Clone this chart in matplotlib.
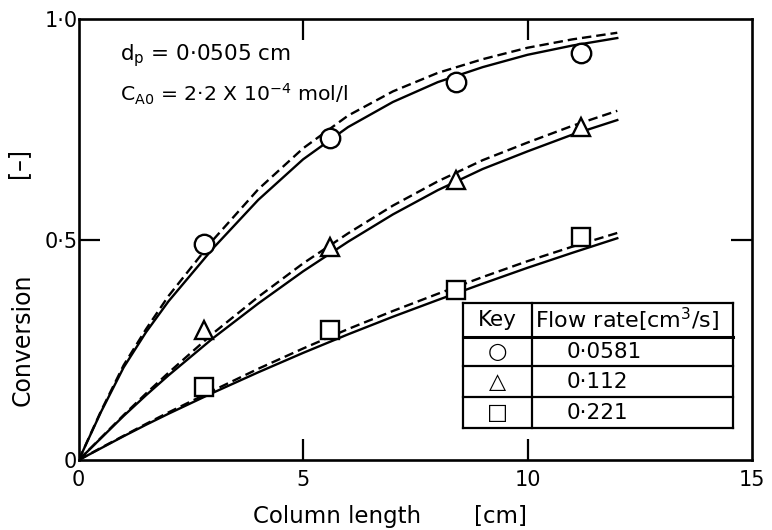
import matplotlib
matplotlib.use("Agg")
import matplotlib.pyplot as plt
from matplotlib.lines import Line2D

plt.rcParams['font.family'] = ['DejaVu Sans']
plt.rcParams['mathtext.default'] = 'regular'

# Column length grid for the model curves [cm]
length_cm = [0, 0.5, 1, 1.5, 2, 3, 4, 5, 6, 7, 8, 9, 10, 11, 12]

# Model curves (solid and dashed) for each flow rate
solid_0581 = [0, 0.11, 0.21, 0.29, 0.36, 0.481, 0.59, 0.682, 0.755, 0.812, 0.857, 0.891, 0.919, 0.940, 0.957]
dashed_0581 = [0, 0.112, 0.215, 0.297, 0.372, 0.50, 0.614, 0.707, 0.781, 0.836, 0.878, 0.909, 0.935, 0.954, 0.969]
solid_112 = [0, 0.05, 0.10, 0.147, 0.192, 0.277, 0.355, 0.428, 0.495, 0.557, 0.612, 0.66, 0.70, 0.738, 0.771]
dashed_112 = [0, 0.051, 0.102, 0.151, 0.198, 0.288, 0.37, 0.446, 0.514, 0.577, 0.632, 0.68, 0.72, 0.758, 0.792]
solid_221 = [0, 0.027, 0.054, 0.08, 0.105, 0.153, 0.199, 0.243, 0.285, 0.325, 0.363, 0.40, 0.436, 0.47, 0.503]
dashed_221 = [0, 0.028, 0.055, 0.082, 0.108, 0.158, 0.207, 0.253, 0.297, 0.338, 0.377, 0.415, 0.451, 0.484, 0.515]

# Measured conversions
meas_length = [2.8, 5.6, 8.4, 11.2]
meas_0581 = [0.49, 0.73, 0.857, 0.923]
meas_112 = [0.295, 0.484, 0.636, 0.755]
meas_221 = [0.166, 0.295, 0.386, 0.505]

flow_rates = ["0·0581", "0·112", "0·221"]
key_symbols = ["○", "△", "□"]
x_ticks = [0, 5, 10, 15]
x_ticklabels = ["0", "5", "10", "15"]
y_ticks = [0, 0.5, 1.0]
y_ticklabels = ["0", "0·5", "1·0"]

fig = plt.figure(figsize=(7.72, 5.30), dpi=100)
ax = fig.add_axes([0.102, 0.132, 0.872, 0.832])

lw = 1.7
for solid, dashed in [(solid_0581, dashed_0581), (solid_112, dashed_112), (solid_221, dashed_221)]:
    ax.plot(length_cm, solid, color='black', lw=lw, solid_joinstyle='round')
    ax.plot(length_cm, dashed, color='black', lw=lw, linestyle=(0, (4.0, 2.1)))

mk = dict(color='black', linestyle='none', markerfacecolor='white', markeredgewidth=1.7, zorder=5)
ax.plot(meas_length, meas_0581, marker='o', markersize=14, **mk)
ax.plot(meas_length, meas_112, marker='^', markersize=12.5, **mk)
ax.plot(meas_length, meas_221, marker='s', markersize=12.5, **mk)

ax.set_xlim(0, 15)
ax.set_ylim(0, 1.0)
ax.set_xticks(x_ticks)
ax.set_xticklabels(x_ticklabels)
ax.set_yticks(y_ticks)
ax.set_yticklabels(y_ticklabels)
ax.tick_params(direction='in', length=15, width=1.6, labelsize=15,
               top=True, right=True)
ax.tick_params(axis='x', pad=7)
ax.tick_params(axis='y', pad=1)
# tick marks only at the interior positions; the end labels sit on the frame corners
for axis in (ax.xaxis, ax.yaxis):
    ticks = axis.get_major_ticks()
    for t in (ticks[0], ticks[-1]):
        t.tick1line.set_visible(False)
        t.tick2line.set_visible(False)
for s in ax.spines.values():
    s.set_linewidth(1.9)

ax.set_xlabel("Column length", fontsize=16.5, va='center')
ax.xaxis.set_label_coords(0.383, -0.127)
ax.text(0.626, -0.127, "[cm]", transform=ax.transAxes, fontsize=16.5,
        ha='center', va='center')
ax.set_ylabel("Conversion", fontsize=17, va='center')
ax.yaxis.set_label_coords(-0.083, 0.272)
ax.text(-0.09, 0.673, "[–]", transform=ax.transAxes, fontsize=17,
        rotation=90, ha='center', va='center')

ax.text(0.062, 0.917, "d$_p$ = 0·0505 cm", transform=ax.transAxes, fontsize=15.5, va='center')
ax.text(0.062, 0.83, "C$_{A0}$ = 2·2 X 10$^{-4}$ mol/l", transform=ax.transAxes, fontsize=14.7, va='center')

# Key table
tx0, tx1, txd = 0.571, 0.972, 0.674
row_edges = [0.356, 0.279, 0.213, 0.143, 0.0726]
tkw = dict(transform=ax.transAxes, color='black', lw=1.6, clip_on=False)
for i, y in enumerate(row_edges):
    ax.add_line(Line2D([tx0, tx1], [y, y], **dict(tkw, lw=2.2 if i == 1 else 1.6)))
for x in (tx0, txd, tx1):
    ax.add_line(Line2D([x, x], [row_edges[0], row_edges[-1]], **tkw))
ax.add_patch(plt.Rectangle((tx0, row_edges[-1]), tx1 - tx0, row_edges[0] - row_edges[-1],
                           transform=ax.transAxes, facecolor='white', edgecolor='none', zorder=1.5))
ax.text((tx0 + txd) / 2, (row_edges[0] + row_edges[1]) / 2, "Key", transform=ax.transAxes,
        ha='center', va='center', fontsize=15.5)
ax.text(txd + 0.004, (row_edges[0] + row_edges[1]) / 2, "Flow rate[cm$^3$/s]",
        transform=ax.transAxes, ha='left', va='center', fontsize=16)
for i in range(3):
    yc = (row_edges[i + 1] + row_edges[i + 2]) / 2
    ax.text((tx0 + txd) / 2, yc, key_symbols[i], transform=ax.transAxes,
            ha='center', va='center', fontsize=16)
    ax.text(txd + 0.05, yc, flow_rates[i], transform=ax.transAxes,
            ha='left', va='center', fontsize=15.5)

fig.savefig("out.png", dpi=100)
